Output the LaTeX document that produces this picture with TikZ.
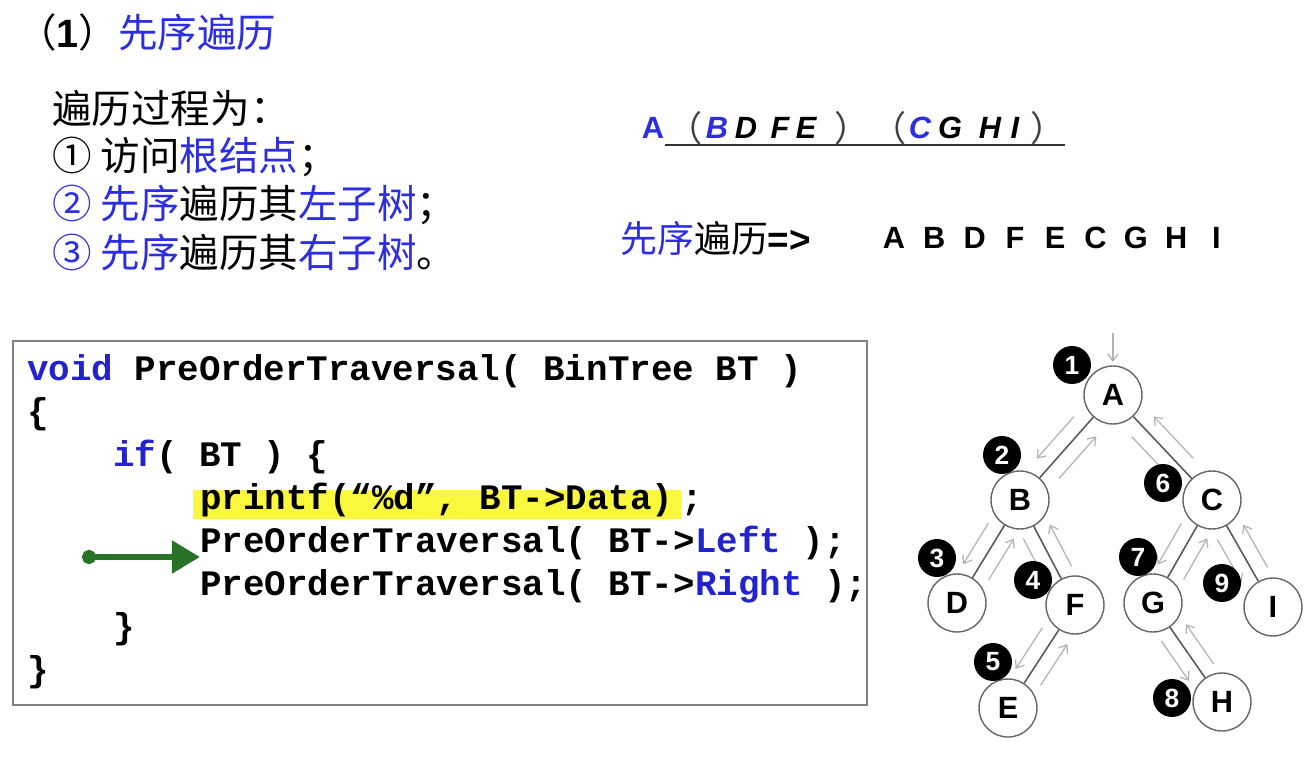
\documentclass[tikz,border=0pt]{standalone}
\usepackage{fontspec}
\setmainfont{Noto Sans CJK SC}
\newfontfamily\sansfont{Liberation Sans}
\newfontfamily\codefont{Liberation Mono}
\usetikzlibrary{positioning,calc,arrows.meta}

\definecolor{textblue}{RGB}{45,45,225}
\definecolor{codeblue}{RGB}{35,35,205}
\definecolor{arrowgreen}{RGB}{40,115,40}
\definecolor{hlyellow}{RGB}{250,248,60}

\tikzset{
  cn/.style={font=\fontsize{22.5}{26}\selectfont, anchor=west, inner sep=0pt},
  code/.style={font=\codefont\bfseries\fontsize{20.4}{24}\selectfont, anchor=base west, inner sep=0pt},
  seqletter/.style={font=\sansfont\bfseries\fontsize{17.5}{20}\selectfont, inner sep=0pt},
  vertex/.style={circle, draw=black!60, line width=0.8pt, fill=white, minimum size=1.16cm,
    inner sep=0pt, font=\sansfont\bfseries\fontsize{17.5}{20}\selectfont},
  badge/.style={circle, fill=black, minimum size=0.76cm, inner sep=0pt, text=white,
    font=\sansfont\bfseries\fontsize{15}{17}\selectfont},
  edge/.style={draw=black!65, line width=0.9pt},
  trav/.style={draw=black!30, line width=0.7pt, -{Straight Barb[length=4pt,width=6pt]}},
}

\begin{document}
\begin{tikzpicture}[x=0.02cm,y=-0.02cm]
    \useasboundingbox (0,0) rectangle (1313,777);

    %title and steps
    \node[cn] (title) at (17,32)
        {（{\sansfont\bfseries 1}）\textcolor{textblue}{先序遍历}};
    \node[cn] (step0) at (52,108) {遍历过程为：};
    \node[cn] (step1) at (52,157) {① 访问\textcolor{textblue}{根结点}；};
    \node[cn] (step2) at (52,205) {\textcolor{textblue}{② 先序}遍历其\textcolor{textblue}{左子树}；};
    \node[cn] (step3) at (52,252) {\textcolor{textblue}{③ 先序}遍历其\textcolor{textblue}{右子树}。};

    %split of the sequence
    \node[seqletter, text=textblue] (sA) at (653,128) {A};
    \foreach \x/\ch/\c [count=\i] in {717/B/textblue, 746/D/black, 780/F/black, 806/E/black,
                                      920/C/textblue, 950/G/black, 990/H/black, 1015/I/black}
        \node[seqletter, text=\c, font=\sansfont\bfseries\itshape\fontsize{17.5}{20}\selectfont]
            (s\i) at (\x,128) {\ch};
    \node[cn, text=black!75, font=\fontsize{20}{24}\selectfont] (lp1) at (667,128) {（};
    \node[cn, text=black!75, font=\fontsize{20}{24}\selectfont] (rp1) at (834,128) {）};
    \node[cn, text=black!75, font=\fontsize{20}{24}\selectfont] (lp2) at (871,128) {（};
    \node[cn, text=black!75, font=\fontsize{20}{24}\selectfont] (rp2) at (1030,128) {）};
    \draw[black!80, line width=1.1pt] (665,145) -- (1065,145);

    %result
    \node[cn, font=\fontsize{21}{24}\selectfont] (res) at (620,238)
        {\textcolor{textblue}{先序}遍历{\sansfont\bfseries =>}};
    \foreach \ch [count=\i] in {A,B,D,F,E,C,G,H,I}
        \node[seqletter] (r\i) at (894+40.3*\i-40.3,238) {\ch};

    %code box
    \draw[black!50, line width=0.9pt] (13,341) rectangle (867,705);
    \node[code] (l1) at (27,380) {\textcolor{codeblue}{void} PreOrderTraversal( BinTree BT )};
    \node[code] (l2) at (27,423) {\{};
    \node[code] (l3) at (113,466) {\textcolor{codeblue}{if}( BT ) \{};
    \node[code, fill=hlyellow, inner xsep=4pt, text height=0.75em, text depth=0.25em,
          inner ysep=3.4pt] (hl) at (193,509) {printf(“\%d”, BT->Data)};
    \node[code, anchor=base west] (semi) at (hl.base east) {;};
    \node[code] (l5) at (200,552) {PreOrderTraversal( BT->\textcolor{codeblue}{Left} );};
    \node[code] (l6) at (200,595) {PreOrderTraversal( BT->\textcolor{codeblue}{Right} );};
    \node[code] (l7) at (113,638) {\}};
    \node[code] (l8) at (27,681) {\}};

    %green pointer
    \coordinate (gs) at (82,557);
    \draw[arrowgreen, line width=3.6pt, {Circle[length=8pt]}-{Triangle[length=16pt,width=18pt]}]
        (gs) -- (gs -| l5.west);

    %tree
    \node[vertex] (A) at (1113,395) {A};
    \node[vertex] (B) at (1020,500) {B};
    \node[vertex] (C) at (1212,500) {C};
    \node[vertex] (D) at (957,603) {D};
    \node[vertex] (F) at (1075,605) {F};
    \node[vertex] (G) at (1153,603) {G};
    \node[vertex] (I) at (1273,607) {I};
    \node[vertex] (E) at (1008,708) {E};
    \node[vertex] (H) at (1222,702) {H};

    \foreach \u/\v in {A/B,A/C,B/D,B/F,F/E,C/G,C/I,G/H}
        \draw[edge] (\u) -- (\v);

    %traversal path
    \coordinate (in) at (1113,333);
    \draw[trav, shorten >=2pt] (in) -- (A);
    \foreach \u/\v in {A/B,B/A,A/C,C/A,B/D,D/B,B/F,F/B,F/E,E/F,C/G,G/C,C/I,I/C,G/H,H/G}
        \draw[trav] ($(\u)!.3!(\v)!8.5pt!-90:(\v)$) -- ($(\u)!.7!(\v)!8.5pt!-90:(\v)$);

    %visit order
    \node[badge] (b1) at (1072,365) {1};
    \node[badge] (b2) at (1002,455) {2};
    \node[badge] (b3) at (937,558) {3};
    \node[badge] (b4) at (1033,580) {4};
    \node[badge] (b5) at (993,662) {5};
    \node[badge] (b6) at (1163,483) {6};
    \node[badge] (b7) at (1138,557) {7};
    \node[badge] (b8) at (1172,698) {8};
    \node[badge] (b9) at (1222,583) {9};

\end{tikzpicture}
\end{document}
